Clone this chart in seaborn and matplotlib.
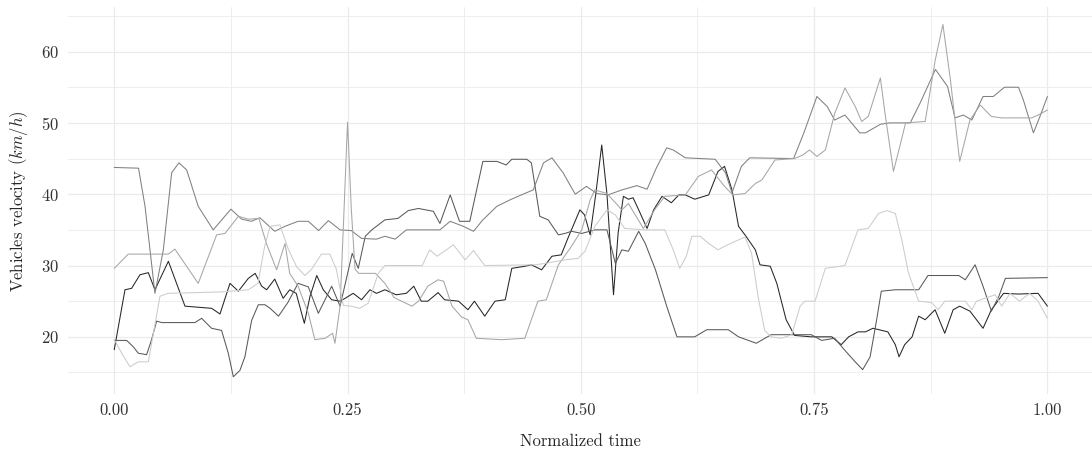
import pandas as pd
import numpy as np
import matplotlib
matplotlib.use('Agg')
import matplotlib.pyplot as plt
import seaborn as sns

# Values (normalized time, km/h)
veh_a_t = [0, 0.0115, 0.0186, 0.0275, 0.0365, 0.0436, 0.058, 0.0758, 0.1044, 0.1133, 0.124, 0.133,
           0.1437, 0.151, 0.158, 0.1633, 0.172, 0.181, 0.188, 0.195, 0.2037, 0.2098, 0.217, 0.224,
           0.233, 0.242, 0.2474, 0.256, 0.265, 0.274, 0.281, 0.29, 0.302, 0.313, 0.321, 0.329, 0.336,
           0.347, 0.354, 0.369, 0.379, 0.386, 0.397, 0.408, 0.419, 0.426, 0.44, 0.447, 0.458, 0.469,
           0.479, 0.487, 0.499, 0.504, 0.51, 0.516, 0.5224, 0.528, 0.535, 0.54, 0.5456, 0.551, 0.556,
           0.562, 0.571, 0.578, 0.587, 0.597, 0.605, 0.612, 0.622, 0.637, 0.647, 0.654, 0.662, 0.669,
           0.677, 0.687, 0.692, 0.703, 0.71, 0.72, 0.729, 0.747, 0.769, 0.779, 0.787, 0.797, 0.805,
           0.813, 0.829, 0.837, 0.841, 0.847, 0.855, 0.862, 0.869, 0.8796, 0.89, 0.899, 0.906, 0.917,
           0.931, 0.94, 0.953, 0.969, 0.99, 1.0]
veh_a_v = [18.2, 26.6, 26.8, 28.7, 29.0, 26.6, 30.6, 24.3, 24.0, 23.2, 27.5, 26.4,
           28.2, 28.9, 27.1, 26.6, 28.1, 25.4, 26.6, 26.1, 21.9, 25.7, 28.6, 26.6,
           25.2, 25.0, 25.4, 26.1, 25.2, 26.6, 26.1, 26.6, 25.9, 26.1, 27.1, 25.0, 25.0,
           26.2, 25.2, 25.0, 23.8, 25.0, 22.9, 25.0, 25.2, 29.6, 29.9, 30.1, 29.4, 31.3,
           31.5, 34.1, 37.8, 37.1, 34.3, 40.0, 46.9, 40.0, 25.9, 34.6, 39.7, 39.3, 39.5,
           37.8, 35.2, 37.8, 39.7, 38.8, 39.9, 39.9, 39.3, 39.9, 43.2, 43.9, 40.6, 35.5,
           34.1, 32.2, 30.1, 29.9, 27.5, 22.4, 20.2, 20.0, 20.0, 18.9, 20.0, 20.7, 20.7,
           21.2, 20.7, 18.9, 17.2, 18.9, 20.0, 22.9, 22.4, 23.8, 20.5, 23.8, 24.3, 23.6,
           21.2, 23.8, 26.1, 26.0, 26.1, 24.3]

veh_b_t = [0, 0.0133, 0.0204, 0.0258, 0.0347, 0.04, 0.0454, 0.0508, 0.0865, 0.0936, 0.1043, 0.115,
           0.1222, 0.1276, 0.1347, 0.14, 0.1472, 0.1544, 0.1615, 0.167, 0.176, 0.186, 0.197, 0.208,
           0.2187, 0.233, 0.242, 0.255, 0.2615, 0.269, 0.276, 0.29, 0.304, 0.315, 0.326, 0.342,
           0.349, 0.36, 0.37, 0.381, 0.395, 0.41, 0.42, 0.426, 0.442, 0.447, 0.456, 0.465, 0.476,
           0.483, 0.49, 0.501, 0.515, 0.528, 0.537, 0.544, 0.551, 0.562, 0.569, 0.58, 0.592, 0.603,
           0.622, 0.635, 0.658, 0.669, 0.688, 0.704, 0.747, 0.758, 0.772, 0.783, 0.794, 0.802, 0.81,
           0.817, 0.822, 0.837, 0.862, 0.872, 0.905, 0.912, 0.9225, 0.931, 0.94, 0.948, 0.955, 1.0]
veh_b_v = [19.5, 19.5, 18.6, 17.7, 17.5, 19.6, 22.2, 22.0, 22.0, 22.6, 21.2, 20.9,
           17.7, 14.4, 15.3, 17.2, 22.3, 24.5, 24.5, 24.0, 22.9, 24.8, 27.5, 27.0,
           23.3, 27.1, 24.3, 31.7, 29.6, 34.1, 35.0, 36.4, 36.6, 37.7, 38.0, 37.6,
           35.9, 39.9, 36.2, 36.2, 44.6, 44.6, 44.1, 44.9, 44.9, 44.4, 36.9, 36.4, 34.3,
           34.5, 34.8, 34.5, 35.0, 35.0, 30.3, 32.2, 32.0, 34.8, 33.1, 29.4, 24.3, 20.0,
           20.0, 21.0, 21.0, 20.0, 19.1, 20.3, 20.3, 19.5, 19.8, 18.1, 16.5, 15.4, 17.2,
           22.4, 26.4, 26.6, 26.6, 28.6, 28.6, 28.0, 30.1, 27.1, 23.6, 25.7, 28.2, 28.3]

veh_c_t = [0, 0.026, 0.033, 0.0436, 0.0526, 0.0615, 0.0693, 0.0776, 0.09, 0.106, 0.125, 0.1365,
           0.147, 0.156, 0.172, 0.183, 0.197, 0.208, 0.219, 0.2295, 0.242, 0.254, 0.265, 0.281,
           0.29, 0.301, 0.313, 0.349, 0.36, 0.374, 0.385, 0.395, 0.41, 0.424, 0.438, 0.449, 0.46,
           0.469, 0.481, 0.494, 0.506, 0.517, 0.529, 0.544, 0.56, 0.571, 0.581, 0.592, 0.599, 0.612,
           0.644, 0.655, 0.662, 0.672, 0.681, 0.728, 0.739, 0.753, 0.764, 0.772, 0.783, 0.799, 0.805,
           0.821, 0.831, 0.853, 0.864, 0.88, 0.893, 0.901, 0.91, 0.919, 0.931, 0.942, 0.954, 0.969,
           0.974, 0.985, 0.992, 1.0]
veh_c_v = [43.75, 43.65, 38.3, 26.1, 32.2, 43.0, 44.4, 43.4, 38.3, 35.0, 37.9, 36.5,
           36.2, 36.7, 34.8, 35.5, 36.2, 36.2, 34.9, 36.3, 35.0, 34.9, 33.8, 33.7,
           34.1, 33.7, 35.0, 35.0, 36.2, 35.5, 34.8, 36.4, 38.3, 39.2, 40.0, 40.6, 44.4,
           45.1, 43.0, 40.0, 41.1, 40.1, 39.9, 40.6, 41.2, 40.7, 43.7, 46.5, 46.2, 45.1,
           44.9, 43.0, 40.2, 43.9, 45.1, 45.0, 48.6, 53.7, 52.3, 50.4, 51.1, 48.6, 48.6,
           49.8, 50.0, 50.0, 52.9, 57.5, 55.1, 50.7, 51.1, 50.4, 53.7, 53.7, 55.0, 55.0,
           53.3, 48.6, 50.9, 53.7]

veh_d_t = [0, 0.015, 0.058, 0.065, 0.09, 0.1097, 0.1187, 0.133, 0.1437, 0.155, 0.163, 0.174,
           0.183, 0.188, 0.197, 0.208, 0.215, 0.226, 0.234, 0.2365, 0.242, 0.246, 0.25, 0.254,
           0.258, 0.262, 0.28, 0.29, 0.3, 0.319, 0.326, 0.336, 0.347, 0.353, 0.362, 0.372, 0.379,
           0.388, 0.415, 0.44, 0.454, 0.463, 0.476, 0.49, 0.501, 0.51, 0.515, 0.528, 0.544, 0.551,
           0.567, 0.579, 0.59, 0.612, 0.626, 0.64, 0.654, 0.663, 0.676, 0.687, 0.694, 0.708, 0.729,
           0.738, 0.745, 0.753, 0.762, 0.772, 0.783, 0.794, 0.801, 0.808, 0.821, 0.826, 0.835, 0.842,
           0.848, 0.869, 0.8796, 0.888, 0.896, 0.906, 0.917, 0.928, 0.94, 0.951, 0.983, 0.99, 1.0]
veh_d_v = [29.6, 31.6, 31.6, 32.3, 27.5, 34.3, 34.5, 36.9, 36.5, 36.6, 33.1, 29.4,
           33.1, 28.9, 27.1, 23.3, 19.6, 19.8, 20.5, 19.1, 24.3, 37.0, 50.1, 38.0,
           29.5, 28.9, 28.9, 27.5, 25.5, 24.3, 25.0, 27.1, 28.0, 27.8, 24.3, 22.8, 22.4,
           19.8, 19.6, 19.8, 25.0, 25.2, 30.1, 32.7, 35.0, 39.2, 40.6, 40.1, 37.8, 38.7,
           35.2, 37.8, 39.7, 39.9, 42.5, 43.4, 41.1, 39.9, 40.1, 41.5, 42.0, 44.8, 45.0,
           45.5, 46.2, 45.3, 46.2, 51.3, 54.9, 52.3, 50.2, 50.9, 56.3, 51.3, 43.2, 46.8,
           50.0, 50.2, 58.7, 63.8, 56.1, 44.6, 50.4, 52.5, 50.9, 50.7, 50.7, 51.1, 51.8]

veh_e_t = [0, 0.008, 0.0169, 0.0258, 0.0365, 0.049, 0.058, 0.115, 0.1437, 0.154, 0.161, 0.167,
           0.1776, 0.1865, 0.1955, 0.2044, 0.2116, 0.222, 0.231, 0.238, 0.2455, 0.254, 0.263, 0.272,
           0.283, 0.29, 0.33, 0.338, 0.346, 0.3635, 0.376, 0.385, 0.397, 0.451, 0.462, 0.483, 0.497,
           0.5045, 0.515, 0.528, 0.537, 0.547, 0.569, 0.59, 0.599, 0.606, 0.613, 0.619, 0.628, 0.637,
           0.647, 0.654, 0.669, 0.676, 0.683, 0.69, 0.697, 0.704, 0.715, 0.726, 0.735, 0.74, 0.751,
           0.762, 0.783, 0.797, 0.808, 0.819, 0.828, 0.837, 0.844, 0.851, 0.862, 0.876, 0.883, 0.89,
           0.912, 0.919, 0.924, 0.944, 0.951, 0.96, 0.97, 0.981, 0.99, 1.0]
veh_e_v = [19.6, 17.7, 15.8, 16.5, 16.5, 25.7, 26.1, 26.3, 26.6, 27.5, 32.6, 35.5,
           35.7, 32.3, 29.8, 28.6, 29.5, 31.6, 31.6, 29.5, 24.4, 24.3, 24.0, 24.7,
           28.9, 30.0, 30.0, 32.2, 31.3, 32.9, 30.8, 32.1, 30.0, 30.1, 30.3, 30.8, 31.0,
           32.0, 35.5, 37.8, 37.1, 35.2, 35.0, 35.0, 32.2, 29.6, 31.3, 34.1, 34.1, 33.1,
           32.2, 32.7, 33.6, 34.0, 31.7, 25.6, 20.9, 20.0, 19.8, 20.3, 24.3, 25.0, 25.0,
           29.6, 30.0, 35.0, 35.2, 37.3, 37.7, 37.3, 33.6, 29.0, 25.0, 24.8, 23.8, 25.0,
           25.0, 23.8, 25.0, 25.9, 24.3, 26.1, 25.0, 26.1, 25.0, 22.6]

vehicles = ['A', 'B', 'C', 'D', 'E']
greys = ['#262626', '#595959', '#808080', '#a6a6a6', '#cccccc']


def build_frame():
    """Stack the vehicle series into one long table for seaborn."""
    parts = []
    series = [(veh_a_t, veh_a_v), (veh_b_t, veh_b_v), (veh_c_t, veh_c_v),
              (veh_d_t, veh_d_v), (veh_e_t, veh_e_v)]
    for name, (t, v) in zip(vehicles, series):
        parts.append(pd.DataFrame({'time': t, 'velocity': v, 'vehicle': name}))
    return pd.concat(parts, ignore_index=True)


def main():
    df = build_frame()

    sns.set_theme(style='white')
    plt.rcParams['font.family'] = ['cmr10', 'DejaVu Serif']
    plt.rcParams['mathtext.fontset'] = 'cm'
    plt.rcParams['axes.formatter.use_mathtext'] = True

    fig = plt.figure(figsize=(10.92, 4.57), dpi=100)
    ax = fig.add_axes([0.0619, 0.137, 0.94, 0.848])

    sns.lineplot(data=df, x='time', y='velocity', hue='vehicle', palette=greys,
                 estimator=None, linewidth=0.75, legend=False, ax=ax)
    for ln in ax.get_lines():
        ln.set_solid_joinstyle('round')

    ax.margins(x=0.05, y=0.05)
    ax.set_xticks([0, 0.25, 0.5, 0.75, 1.0])
    ax.set_xticklabels(['0.00', '0.25', '0.50', '0.75', '1.00'])
    ax.set_xticks([0.125, 0.375, 0.625, 0.875], minor=True)
    ax.set_yticks([20, 30, 40, 50, 60])
    ax.set_yticks([15, 25, 35, 45, 55, 65], minor=True)

    ax.grid(which='major', color='#ebebeb', linewidth=0.9)
    ax.grid(which='minor', color='#ebebeb', linewidth=0.6)
    ax.set_axisbelow(True)
    for s in ax.spines.values():
        s.set_visible(False)
    ax.tick_params(which='both', length=0, labelsize=12, colors='#333333', pad=6)

    ax.set_xlabel('Normalized time', fontsize=12, labelpad=11)
    ax.set_ylabel('Vehicles velocity ($km/h$)', fontsize=12, labelpad=8)

    fig.savefig('out.png', dpi=100)


if __name__ == '__main__':
    main()
